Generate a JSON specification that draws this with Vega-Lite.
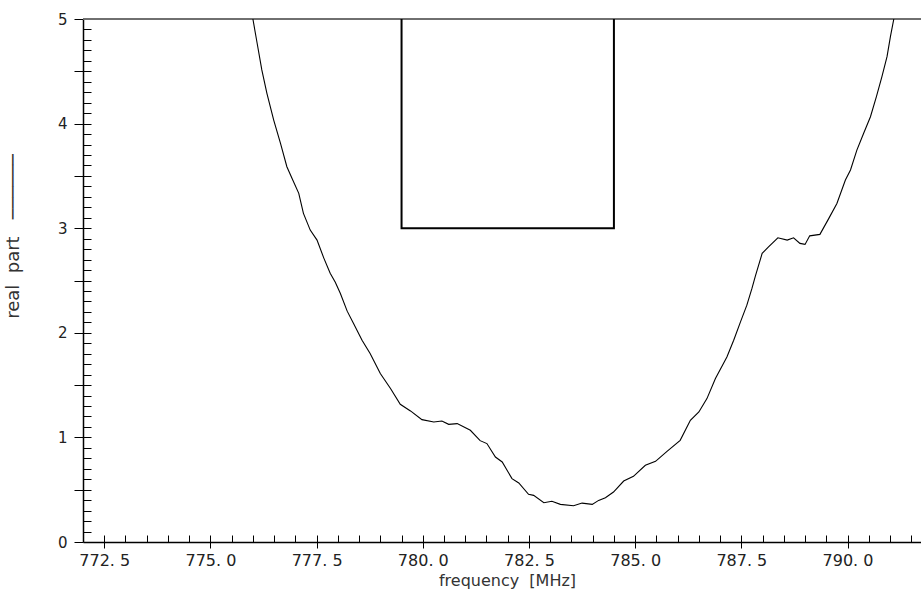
{
  "$schema": "https://vega.github.io/schema/vega-lite/v6.json",
  "width": 838,
  "height": 523,
  "autosize": "none",
  "padding": {"left": 83, "top": 19, "right": 0, "bottom": 52},
  "background": "white",
  "config": {
    "view": {"stroke": null},
    "axis": {"grid": false, "labelFont": "DejaVu Sans", "titleFont": "DejaVu Sans", "labelColor": "#222", "titleColor": "#333", "domainColor": "black", "tickColor": "black", "titleFontWeight": "normal"}
  },
  "datasets": {
    "curve": [
      {"f": 776.00, "v": 5.00}, {"f": 776.10, "v": 4.768}, {"f": 776.21, "v": 4.513}, {"f": 776.33, "v": 4.290},
      {"f": 776.49, "v": 4.034}, {"f": 776.65, "v": 3.811}, {"f": 776.80, "v": 3.588}, {"f": 776.92, "v": 3.477},
      {"f": 777.08, "v": 3.333}, {"f": 777.19, "v": 3.142}, {"f": 777.35, "v": 2.982}, {"f": 777.51, "v": 2.886},
      {"f": 777.67, "v": 2.714}, {"f": 777.82, "v": 2.570}, {"f": 777.94, "v": 2.484}, {"f": 778.06, "v": 2.376},
      {"f": 778.22, "v": 2.207}, {"f": 778.37, "v": 2.089}, {"f": 778.57, "v": 1.929}, {"f": 778.76, "v": 1.802},
      {"f": 779.00, "v": 1.611}, {"f": 779.24, "v": 1.467}, {"f": 779.47, "v": 1.317}, {"f": 779.71, "v": 1.253},
      {"f": 779.98, "v": 1.170}, {"f": 780.26, "v": 1.147}, {"f": 780.45, "v": 1.157}, {"f": 780.61, "v": 1.125},
      {"f": 780.81, "v": 1.132}, {"f": 781.12, "v": 1.068}, {"f": 781.35, "v": 0.969}, {"f": 781.51, "v": 0.941},
      {"f": 781.71, "v": 0.812}, {"f": 781.87, "v": 0.765}, {"f": 782.10, "v": 0.606}, {"f": 782.26, "v": 0.564},
      {"f": 782.49, "v": 0.456}, {"f": 782.61, "v": 0.446}, {"f": 782.85, "v": 0.376}, {"f": 783.04, "v": 0.389},
      {"f": 783.24, "v": 0.360}, {"f": 783.55, "v": 0.347}, {"f": 783.75, "v": 0.372}, {"f": 783.99, "v": 0.360},
      {"f": 784.14, "v": 0.398}, {"f": 784.30, "v": 0.424}, {"f": 784.49, "v": 0.478}, {"f": 784.73, "v": 0.583},
      {"f": 784.96, "v": 0.628}, {"f": 785.24, "v": 0.733}, {"f": 785.48, "v": 0.771}, {"f": 785.75, "v": 0.867},
      {"f": 786.06, "v": 0.972}, {"f": 786.30, "v": 1.164}, {"f": 786.50, "v": 1.243}, {"f": 786.69, "v": 1.371},
      {"f": 786.89, "v": 1.563}, {"f": 787.16, "v": 1.769}, {"f": 787.32, "v": 1.929}, {"f": 787.48, "v": 2.104},
      {"f": 787.63, "v": 2.264}, {"f": 787.75, "v": 2.424}, {"f": 787.83, "v": 2.542}, {"f": 787.99, "v": 2.759},
      {"f": 788.14, "v": 2.822}, {"f": 788.36, "v": 2.908}, {"f": 788.58, "v": 2.886}, {"f": 788.73, "v": 2.908},
      {"f": 788.88, "v": 2.855}, {"f": 789.00, "v": 2.845}, {"f": 789.11, "v": 2.927}, {"f": 789.35, "v": 2.941},
      {"f": 789.56, "v": 3.094}, {"f": 789.75, "v": 3.237}, {"f": 789.95, "v": 3.460}, {"f": 790.07, "v": 3.556},
      {"f": 790.22, "v": 3.747}, {"f": 790.38, "v": 3.907}, {"f": 790.54, "v": 4.066}, {"f": 790.68, "v": 4.257},
      {"f": 790.81, "v": 4.449}, {"f": 790.93, "v": 4.640}, {"f": 791.01, "v": 4.832}, {"f": 791.09, "v": 5.00}
    ],
    "box": [
      {"i": 0, "f": 779.5, "v": 5},
      {"i": 1, "f": 779.5, "v": 3},
      {"i": 2, "f": 784.5, "v": 3},
      {"i": 3, "f": 784.5, "v": 5}
    ]
  },
  "layer": [
    {
      "data": {"name": "box"},
      "mark": {"type": "rule", "color": "#666", "strokeWidth": 1},
      "encoding": {"y": {"datum": 5, "type": "quantitative", "axis": null}}
    },
    {
      "data": {"name": "curve"},
      "mark": {"type": "line", "color": "black", "strokeWidth": 1.1, "clip": true},
      "encoding": {
        "x": {"field": "f", "type": "quantitative", "scale": {"domain": [772, 791.73], "nice": false, "zero": false},
          "axis": {"orient": "bottom", "values": [772.5, 775, 777.5, 780, 782.5, 785, 787.5, 790], "tickSize": 6, "labelPadding": 4, "labelFontSize": 16,
            "labelExpr": "replace(format(datum.value, '.1f'), '.', '. ')", "domainWidth": 1.5,
            "title": "frequency\u00a0\u00a0[MHz]", "titleFontSize": 16, "titleX": 424, "titleY": 38, "titleBaseline": "middle"}},
        "y": {"field": "v", "type": "quantitative", "scale": {"domain": [0, 5], "nice": false},
          "axis": {"orient": "left", "values": [0, 0.5, 1, 1.5, 2, 2.5, 3, 3.5, 4, 4.5, 5], "tickSize": 9, "labelPadding": 7, "labelFontSize": 15,
            "labelExpr": "datum.value % 1 == 0 ? format(datum.value, 'd') : ''", "domainWidth": 1.5,
            "title": "real\u00a0\u00a0part\u00a0\u00a0\u00a0\u2500\u2500\u2500\u2500\u2500\u2500", "titleFontSize": 18, "titleAngle": 270, "titleX": -70, "titleY": 217, "titleAlign": "center", "titleBaseline": "middle"}}
      }
    },
    {
      "data": {"name": "box"},
      "mark": {"type": "line", "color": "black", "strokeWidth": 2},
      "encoding": {
        "x": {"field": "f", "type": "quantitative",
          "axis": {"orient": "bottom", "values": [772.5, 773, 773.5, 774, 774.5, 775, 775.5, 776, 776.5, 777, 777.5, 778, 778.5, 779, 779.5, 780, 780.5, 781, 781.5, 782, 782.5, 783, 783.5, 784, 784.5, 785, 785.5, 786, 786.5, 787, 787.5, 788, 788.5, 789, 789.5, 790, 790.5, 791, 791.5],
            "tickSize": -7, "labels": false, "domain": false, "title": null}},
        "y": {"field": "v", "type": "quantitative",
          "axis": {"orient": "left", "values": [0.1, 0.2, 0.3, 0.4, 0.5, 0.6, 0.7, 0.8, 0.9, 1, 1.1, 1.2, 1.3, 1.4, 1.5, 1.6, 1.7, 1.8, 1.9, 2, 2.1, 2.2, 2.3, 2.4, 2.5, 2.6, 2.7, 2.8, 2.9, 3, 3.1, 3.2, 3.3, 3.4, 3.5, 3.6, 3.7, 3.8, 3.9, 4, 4.1, 4.2, 4.3, 4.4, 4.5, 4.6, 4.7, 4.8, 4.9],
            "tickSize": -8, "labels": false, "domain": false, "title": null}},
        "order": {"field": "i", "type": "quantitative"}
      }
    }
  ],
  "resolve": {"axis": {"x": "independent", "y": "independent"}}
}
